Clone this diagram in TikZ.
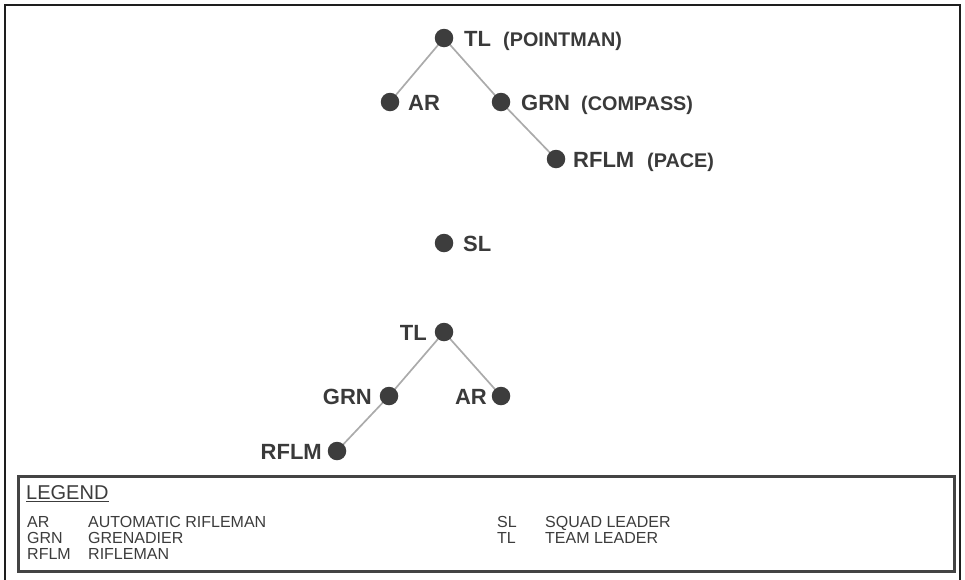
\documentclass[tikz,border=0pt]{standalone}
\usepackage{fontspec}
\setmainfont{Liberation Sans}
\usetikzlibrary{backgrounds}
\definecolor{dotgray}{HTML}{3D3D3D}
\definecolor{linkgray}{HTML}{ABABAB}
\definecolor{txtgray}{HTML}{3A3A3A}
\definecolor{leggray}{HTML}{3C3C3C}
\definecolor{framegray}{HTML}{1E1E1E}
\definecolor{boxgray}{HTML}{444444}
\begin{document}
\begin{tikzpicture}[x=1pt,y=-1pt,
  soldier/.style={circle,fill=dotgray,inner sep=0pt,minimum size=18.5pt},
  link/.style={draw=linkgray,line width=1.7pt},
  lbl/.style={font=\fontsize{22}{22}\selectfont\bfseries,text=txtgray,inner sep=0pt},
  note/.style={font=\fontsize{19.8}{20}\selectfont\bfseries,text=txtgray,inner sep=0pt,anchor=base west},
  leg/.style={font=\fontsize{16}{16}\selectfont,text=leggray,inner sep=0pt,anchor=base west}]
\useasboundingbox (0,0) rectangle (965,579);
\begin{scope}
\clip (0,0) rectangle (965,579);
% outer frame, running off the lower edge
\draw[framegray,line width=2.5pt] (5,5) rectangle (960,620);
\end{scope}

% leading fire team
\node[soldier] (tl1) at (444,38) {};
\node[soldier] (ar1) at (390,102) {};
\node[soldier] (grn1) at (501,102) {};
\node[soldier] (rf1) at (556,159) {};
\node[lbl,anchor=base west] (tl1l) at (464,46) {TL};
\node[note] (tl1n) at (503,46) {(POINTMAN)};
\node[lbl,anchor=base west] (ar1l) at (408,110) {AR};
\node[lbl,anchor=base west] (grn1l) at (521,110) {GRN};
\node[note] (grn1n) at (581,110) {(COMPASS)};
\node[lbl,anchor=base west] (rf1l) at (573,167) {RFLM};
\node[note] (rf1n) at (647,167) {(PACE)};

% squad leader
\node[soldier] (sl) at (444,243) {};
\node[lbl,anchor=base west] (sll) at (463,251) {SL};

% trailing fire team
\node[soldier] (tl2) at (444,332) {};
\node[soldier] (grn2) at (389,396) {};
\node[soldier] (ar2) at (501,396) {};
\node[soldier] (rf2) at (337,451) {};
\node[lbl,anchor=base east] (tl2l) at (427,340) {TL};
\node[lbl,anchor=base east] (grn2l) at (372,404) {GRN};
\node[lbl,anchor=base east] (ar2l) at (487,404) {AR};
\node[lbl,anchor=base east] (rf2l) at (322,459) {RFLM};

\begin{scope}[on background layer]
\draw[link] (tl1.center) -- (ar1.center);
\draw[link] (tl1.center) -- (grn1.center);
\draw[link] (grn1.center) -- (rf1.center);
\draw[link] (tl2.center) -- (grn2.center);
\draw[link] (tl2.center) -- (ar2.center);
\draw[link] (grn2.center) -- (rf2.center);
\end{scope}

% legend
\node[draw=boxgray,line width=2.5pt,minimum width=936pt,minimum height=95pt,
      anchor=north west,inner sep=0pt] (legend) at (17,475) {};
\node[leg,font=\fontsize{20}{20}\selectfont] (head) at (26,499) {LEGEND};
\draw[leggray,line width=1.5pt] ([yshift=-2.5pt]head.base west) -- ([yshift=-2.5pt]head.base east);
\node[leg] (a1) at (27,527) {AR};
\node[leg] (d1) at (88,527) {AUTOMATIC RIFLEMAN};
\node[leg] (a2) at (27,543) {GRN};
\node[leg] (d2) at (88,543) {GRENADIER};
\node[leg] (a3) at (27,559) {RFLM};
\node[leg] (d3) at (88,559) {RIFLEMAN};
\node[leg] (a4) at (497,527) {SL};
\node[leg] (d4) at (545,527) {SQUAD LEADER};
\node[leg] (a5) at (497,543) {TL};
\node[leg] (d5) at (545,543) {TEAM LEADER};
\end{tikzpicture}
\end{document}
